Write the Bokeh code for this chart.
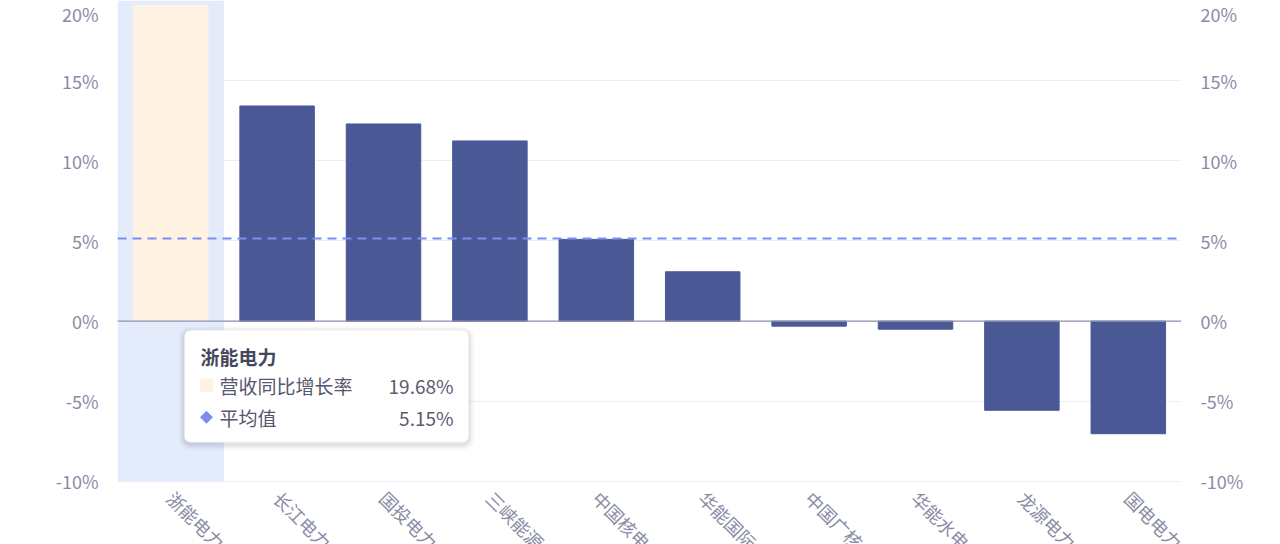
import math
from bokeh.plotting import figure
from bokeh.models import (Range1d, FixedTicker, PrintfTickFormatter, LinearAxis,
                          Span, BoxAnnotation, PolyAnnotation, Label)
from bokeh.core.properties import value
from bokeh.embed import file_html
from bokeh.resources import INLINE

# ---------------- data ----------------
companies = ["浙能电力", "长江电力", "国投电力", "三峡能源", "中国核电",
             "华能国际", "中国广核", "华能水电", "龙源电力", "国电电力"]
growth = [19.68, 13.42, 12.30, 11.24, 5.10, 3.08, -0.31, -0.50, -5.56, -7.02]
average = 5.15
y_ticks = [-10, -5, 0, 5, 10, 15, 20]
series_name = "营收同比增长率"
avg_name = "平均值"
highlight = 0

# ---------------- style ----------------
FONT = "Noto Sans CJK SC"
BAR = "#4b5896"
BAR_HI = "#fef3e2"
BAND = "#e4ebfb"
AVG = "#7b8ff2"
LABEL = "#8a8ca5"
GRID = "#eceef6"

W, H = 1280, 544
ML, MR = 117, 99
Y0, Y1 = -13.93, 20.0          # visible window (axis base at -10)
BASE = min(y_ticks)
X0, X1 = -0.5, len(companies) - 0.5

fw = W - ML - MR
fh = H
pxx = fw / (X1 - X0)      # px per category
pxy = fh / (Y1 - Y0)      # px per percent

p = figure(width=W, height=H, output_backend="svg", toolbar_location=None,
           x_range=Range1d(X0, X1), y_range=Range1d(Y0, Y1),
           min_border_left=ML, min_border_right=MR,
           min_border_top=0, min_border_bottom=0)
p.outline_line_color = None
p.background_fill_color = "white"
p.border_fill_color = "white"

# y axes (both sides)
ticker = FixedTicker(ticks=y_ticks)
fmt = PrintfTickFormatter(format="%d%%")
p.yaxis[0].ticker = ticker
p.yaxis[0].formatter = fmt
right = LinearAxis(ticker=ticker, formatter=fmt)
p.add_layout(right, "right")
for ax in [p.yaxis[0], right]:
    ax.axis_line_color = None
    ax.major_tick_line_color = None
    ax.minor_tick_line_color = None
    ax.major_label_text_color = LABEL
    ax.major_label_text_font = FONT
    ax.major_label_text_font_size = "18px"
    ax.major_label_standoff = 13

p.xaxis.visible = False
p.xgrid.grid_line_color = None
p.ygrid.ticker = FixedTicker(ticks=y_ticks[:-1])
p.ygrid.grid_line_color = GRID
p.ygrid.grid_line_width = 1

# highlight band
p.vbar(x=[highlight], top=[Y1], bottom=[BASE], width=1.0,
       fill_color=BAND, line_color=None)

# bars
colors = [BAR_HI if i == highlight else BAR for i in range(len(companies))]
p.vbar(x=list(range(len(companies))), top=growth, bottom=0, width=0.7,
       fill_color=colors, line_color=colors, line_width=1)

# category labels (rotated) below the axis base
p.text(x=list(range(len(companies))), y=[BASE - 13 / pxy] * len(companies),
       text=companies, angle=-math.pi / 4,
       text_font=value(FONT), text_font_size="18px", text_color=LABEL,
       text_align="left", text_baseline="middle")

# zero axis line and average line
p.add_layout(Span(location=0, dimension="width", line_color="#8e91b0", line_width=1.2))
p.add_layout(Span(location=average, dimension="width", line_color=AVG,
                  line_width=2, line_dash="9 6"))

# ---------------- tooltip ----------------
ax0 = highlight - 0.5          # left of highlighted category
def dxp(px):
    return px / pxx
def dyp(px):
    return px / pxy

tl, tr, tt, tb = 67, 351, 9, 121   # px relative to band left / zero line
for k, a in [(6, 0.025), (4, 0.035), (2, 0.05)]:
    p.add_layout(BoxAnnotation(left=ax0 + dxp(tl - k), right=ax0 + dxp(tr + k),
                               top=-dyp(tt - k + 2), bottom=-dyp(tb + k + 2),
                               fill_color="black", fill_alpha=a, line_color=None,
                               border_radius=6 + k, level="overlay"))
p.add_layout(BoxAnnotation(left=ax0 + dxp(tl), right=ax0 + dxp(tr),
                           top=-dyp(tt), bottom=-dyp(tb),
                           fill_color="white", fill_alpha=1, line_color="#eeeeee",
                           line_width=1, border_radius=6, level="overlay"))

def lab(text, xo, yo, color, align="left", bold=False):
    p.add_layout(Label(x=ax0, y=0, x_offset=xo, y_offset=-yo, text=text,
                       text_font=FONT, text_font_size="19px",
                       text_color=color, text_align=align, text_baseline="middle",
                       text_font_style="bold" if bold else "normal", level="overlay"))

lab(companies[highlight], 83, 35, "#45475c", bold=True)
lab(series_name, 102, 64, "#55576d")
lab("%.2f%%" % growth[highlight], 336, 64, "#5a5c6e", align="right")
lab(avg_name, 102, 96, "#55576d")
lab("%.2f%%" % average, 336, 96, "#5a5c6e", align="right")

# tooltip markers (square for the series, diamond for the average)
mx, s = 89, 6.5
p.add_layout(BoxAnnotation(left=ax0 + dxp(mx - s), right=ax0 + dxp(mx + s),
                           top=-dyp(64 - s), bottom=-dyp(64 + s),
                           fill_color=BAR_HI, fill_alpha=1, line_color=None,
                           level="overlay"))
d = 6.5
p.add_layout(PolyAnnotation(xs=[ax0 + dxp(mx - d), ax0 + dxp(mx), ax0 + dxp(mx + d), ax0 + dxp(mx)],
                            ys=[-dyp(96), -dyp(96 - d), -dyp(96), -dyp(96 + d)],
                            fill_color=AVG, fill_alpha=1, line_color=None,
                            level="overlay"))

open("out.html", "w").write(file_html(p, INLINE))
